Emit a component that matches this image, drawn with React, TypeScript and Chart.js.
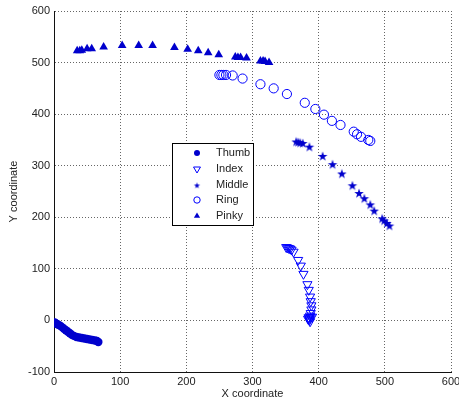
import React, { useEffect, useRef } from 'react';
import { Chart, registerables } from 'chart.js';

Chart.register(...registerables);

// ---- Data ----
const seriesNames = ['Thumb', 'Index', 'Middle', 'Ring', 'Pinky'];

const thumbX = [1, 2, 4, 6, 9, 12, 15, 18, 21, 24, 27, 30, 34, 38, 42, 46, 50, 54, 58, 62, 65, 67];
const thumbY = [-4, -5, -7, -8, -10, -13, -16, -19, -22, -25, -28, -30, -32, -33, -34, -35, -36, -37, -38, -39, -40, -42];

const indexX = [351, 353, 355, 357, 359, 362, 369, 373, 377, 383, 385, 387, 388, 389, 389, 388, 387, 385, 386, 388, 390, 384, 386, 387];
const indexY = [142, 141, 140, 139, 137, 133, 117, 106, 90, 70, 59, 46, 37, 29, 21, 14, 9, 6, 4, 6, 7, 3, 1, -2];

const middleX = [366, 369, 372, 376, 386, 406, 421, 435, 451, 461, 469, 478, 484, 496, 499, 503, 507];
const middleY = [347, 346, 345, 344, 337, 319, 303, 285, 262, 247, 237, 225, 213, 198, 194, 189, 184];

const ringX = [250, 253, 256, 260, 270, 285, 312, 332, 352, 379, 395, 408, 420, 433, 453, 458, 464, 475, 478];
const ringY = [476, 476, 476, 476, 475, 469, 458, 450, 439, 422, 410, 399, 387, 379, 366, 361, 356, 350, 348];

const pinkyX = [35, 39, 42, 50, 57, 75, 103, 128, 149, 182, 202, 218, 233, 249, 274, 278, 282, 291, 312, 316, 319, 325];
const pinkyY = [523, 523, 524, 527, 527, 530, 533, 533, 533, 529, 526, 523, 519, 515, 511, 510, 510, 509, 503, 503, 502, 500];

const xMin = 0;
const xMax = 600;
const xStep = 100;
const yMin = -100;
const yMax = 600;
const yStep = 100;

const FILL = 'rgb(0,0,205)';
const LINE = 'rgb(0,0,255)';
const FONT = "'Liberation Sans', Arial, sans-serif";
const TEXT = '#222222';

function pts(xs: number[], ys: number[]) {
  return xs.map((x, i) => ({ x, y: ys[i] }));
}

function makeStar(outer: number, inner: number, color: string): HTMLCanvasElement {
  const size = Math.ceil(outer * 2) + 2;
  const c = document.createElement('canvas');
  c.width = size;
  c.height = size;
  const ctx = c.getContext('2d')!;
  ctx.beginPath();
  for (let i = 0; i < 10; i++) {
    const r = i % 2 === 0 ? outer : inner;
    const a = -Math.PI / 2 + (i * Math.PI) / 5;
    const px = size / 2 + r * Math.cos(a);
    const py = size / 2 + 0.6 + r * Math.sin(a);
    if (i === 0) ctx.moveTo(px, py);
    else ctx.lineTo(px, py);
  }
  ctx.closePath();
  ctx.fillStyle = color;
  ctx.fill();
  return c;
}

function drawMarker(ctx: CanvasRenderingContext2D, kind: string, x: number, y: number, star: HTMLCanvasElement) {
  ctx.save();
  ctx.beginPath();
  if (kind === 'Thumb') {
    ctx.arc(x, y, 3, 0, Math.PI * 2);
    ctx.fillStyle = FILL;
    ctx.fill();
  } else if (kind === 'Index') {
    const r = 4;
    ctx.moveTo(x - r * 0.87, y - r * 0.5);
    ctx.lineTo(x + r * 0.87, y - r * 0.5);
    ctx.lineTo(x, y + r);
    ctx.closePath();
    ctx.strokeStyle = LINE;
    ctx.lineWidth = 1;
    ctx.stroke();
  } else if (kind === 'Middle') {
    ctx.drawImage(star, x - star.width / 2, y - star.height / 2);
  } else if (kind === 'Ring') {
    ctx.arc(x, y, 3.2, 0, Math.PI * 2);
    ctx.strokeStyle = LINE;
    ctx.lineWidth = 1;
    ctx.stroke();
  } else if (kind === 'Pinky') {
    const r = 3.6;
    ctx.moveTo(x, y - r);
    ctx.lineTo(x + r * 0.87, y + r * 0.5);
    ctx.lineTo(x - r * 0.87, y + r * 0.5);
    ctx.closePath();
    ctx.fillStyle = FILL;
    ctx.fill();
  }
  ctx.restore();
}

export default function App() {
  const canvasRef = useRef<HTMLCanvasElement | null>(null);

  useEffect(() => {
    const canvas = canvasRef.current;
    if (!canvas) return;
    const bigStar = makeStar(5, 2, FILL);
    const smallStar = makeStar(3.2, 1.3, FILL);

    const legendPlugin = {
      id: 'boxLegend',
      afterDraw(chart: any) {
        const ctx: CanvasRenderingContext2D = chart.ctx;
        const left = 172.5;
        const top = 143.5;
        const w = 81;
        const h = 82;
        ctx.save();
        ctx.fillStyle = '#ffffff';
        ctx.fillRect(left, top, w, h);
        ctx.strokeStyle = '#000000';
        ctx.lineWidth = 1;
        ctx.strokeRect(left, top, w, h);
        ctx.font = `11px ${FONT}`;
        ctx.textBaseline = 'middle';
        ctx.textAlign = 'left';
        ctx.fillStyle = TEXT;
        const rowY = [153, 169, 185, 200, 216];
        seriesNames.forEach((name, i) => {
          drawMarker(ctx, name, 197, rowY[i], smallStar);
          ctx.fillStyle = TEXT;
          ctx.fillText(name, 216, rowY[i]);
        });
        ctx.restore();
      },
    };

    const chart = new Chart(canvas, {
      type: 'scatter',
      data: {
        datasets: [
          {
            label: seriesNames[0],
            data: pts(thumbX, thumbY),
            pointStyle: 'circle',
            pointRadius: 4.2,
            backgroundColor: FILL,
            borderColor: FILL,
            borderWidth: 0,
          },
          {
            label: seriesNames[1],
            data: pts(indexX, indexY),
            pointStyle: 'triangle',
            pointRotation: 180,
            pointRadius: 5.3,
            backgroundColor: 'rgba(0,0,0,0)',
            borderColor: LINE,
            borderWidth: 1,
          },
          {
            label: seriesNames[2],
            data: pts(middleX, middleY),
            pointStyle: bigStar as any,
            pointRadius: 5,
            backgroundColor: FILL,
            borderColor: FILL,
          },
          {
            label: seriesNames[3],
            data: pts(ringX, ringY),
            pointStyle: 'circle',
            pointRadius: 4.6,
            backgroundColor: 'rgba(0,0,0,0)',
            borderColor: LINE,
            borderWidth: 1,
          },
          {
            label: seriesNames[4],
            data: pts(pinkyX, pinkyY),
            pointStyle: 'triangle',
            pointRadius: 5,
            backgroundColor: FILL,
            borderColor: FILL,
            borderWidth: 0,
          },
        ],
      },
      options: {
        responsive: false,
        animation: false,
        layout: { padding: { top: 11, right: 8, bottom: 0, left: 0 } },
        plugins: {
          legend: { display: false },
          tooltip: { enabled: false },
        },
        scales: {
          x: {
            type: 'linear',
            min: xMin,
            max: xMax,
            ticks: {
              stepSize: xStep,
              color: TEXT,
              font: { family: FONT, size: 11 },
              padding: 3,
              maxRotation: 0,
            },
            grid: { color: 'rgba(0,0,0,0.6)', lineWidth: 1, drawTicks: false },
            border: { display: true, color: '#111111', width: 1, dash: [1, 2] },
            title: {
              display: true,
              text: 'X coordinate',
              color: TEXT,
              font: { family: FONT, size: 11 },
              padding: { top: 0, bottom: 3 },
            },
            afterFit(scale: any) {
              scale.height = 32;
              scale.paddingLeft = 0;
              scale.paddingRight = 0;
            },
          },
          y: {
            type: 'linear',
            min: yMin,
            max: yMax,
            ticks: {
              stepSize: yStep,
              color: TEXT,
              font: { family: FONT, size: 11 },
              padding: 4,
            },
            grid: { color: 'rgba(0,0,0,0.6)', lineWidth: 1, drawTicks: false },
            border: { display: true, color: '#111111', width: 1, dash: [1, 2] },
            title: {
              display: true,
              text: 'Y coordinate',
              color: TEXT,
              font: { family: FONT, size: 11 },
              padding: { top: 7, bottom: 0 },
            },
            afterFit(scale: any) {
              scale.width = 54;
              scale.paddingTop = 0;
              scale.paddingBottom = 0;
            },
          },
        },
      },
      plugins: [legendPlugin],
    });

    return () => {
      chart.destroy();
    };
  }, []);

  return (
    <div style={{ position: 'absolute', left: 0, top: 0, width: 459, height: 404, background: '#ffffff' }}>
      <canvas ref={canvasRef} width={459} height={404} style={{ display: 'block' }} />
    </div>
  );
}
